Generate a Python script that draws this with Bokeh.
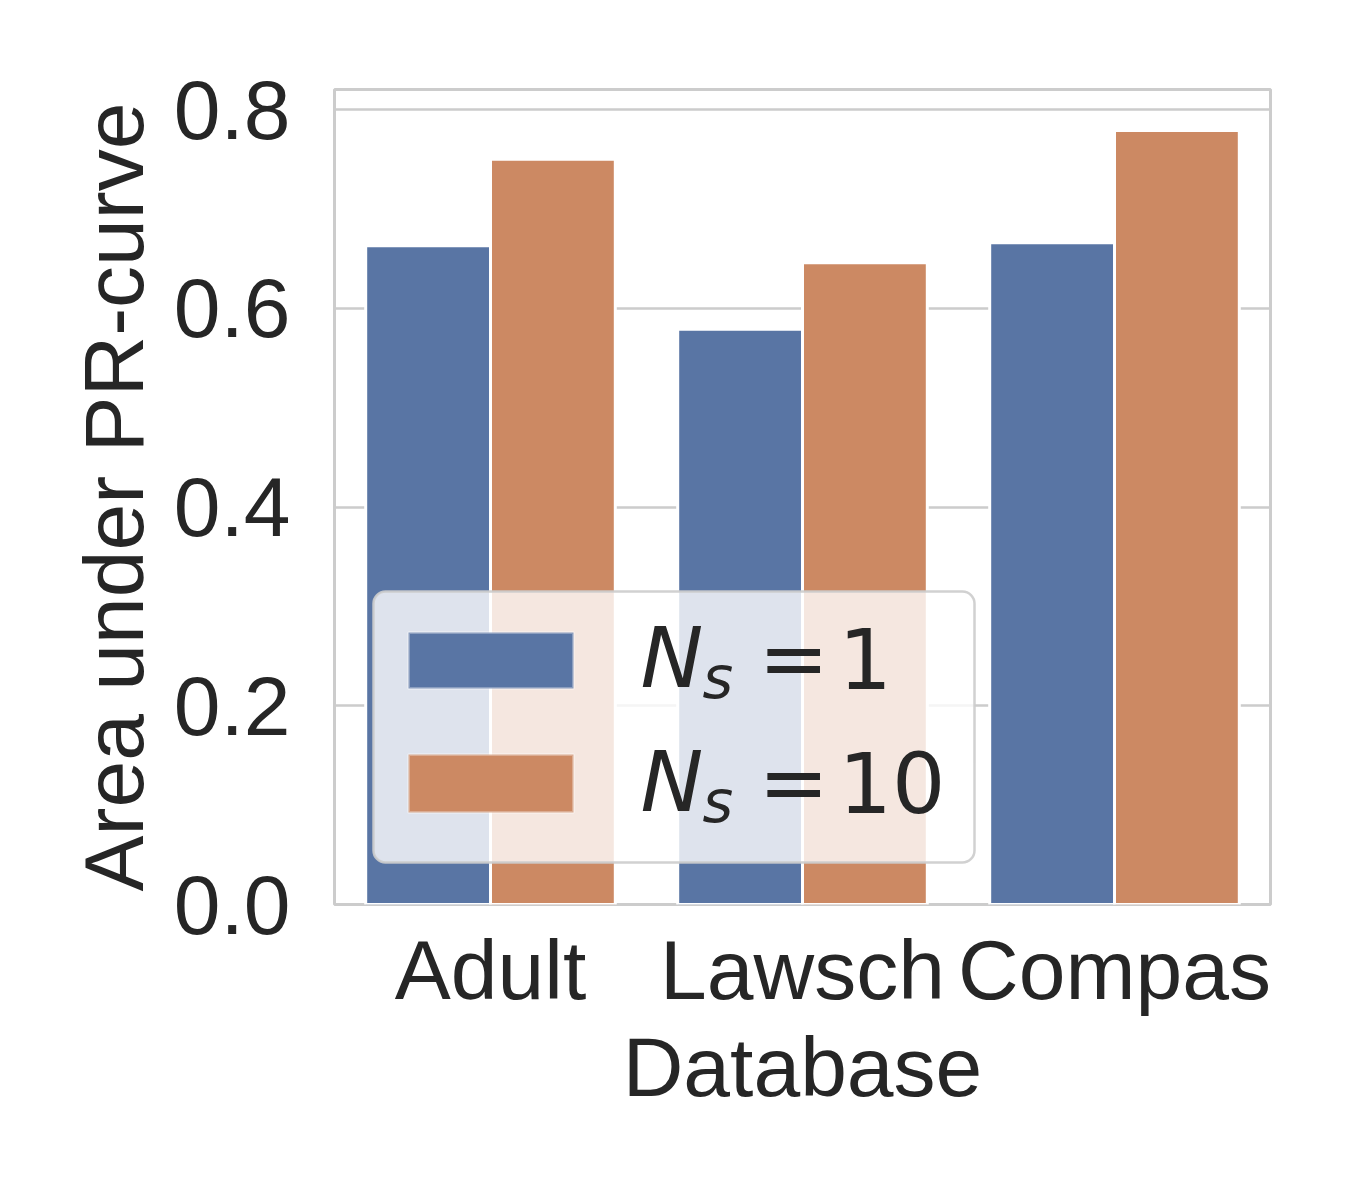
from bokeh.plotting import figure
from bokeh.models import (ColumnDataSource, FactorRange, Range1d, FixedTicker,
                          PrintfTickFormatter, BoxAnnotation, Label)
from bokeh.transform import dodge
from bokeh.embed import file_html
from bokeh.resources import INLINE

# ---- data ----
databases = ["Adult", "Lawsch", "Compas"]
auc_ns1 = [0.663, 0.579, 0.666]
auc_ns10 = [0.750, 0.646, 0.779]
y_ticks = [0.0, 0.2, 0.4, 0.6, 0.8]
series_values = ["1", "10"]
colors = ["#5975A4", "#CC8963"]

# ---- layout ----
W, H = 1330, 1180
L, R, T, B = 334, 60, 89, 276
FW, FH = W - L - R, H - T - B
YMAX = 0.8203
TXT = "#262626"
AX_FONT = "Liberation Sans"
FS = "84px"

src = ColumnDataSource(dict(db=databases, ns1=auc_ns1, ns10=auc_ns10))

p = figure(width=W, height=H, x_range=FactorRange(factors=databases),
           y_range=Range1d(0, YMAX), output_backend="svg", toolbar_location=None,
           min_border_left=L, min_border_right=R, min_border_top=T, min_border_bottom=B)
p.background_fill_color = "white"
p.border_fill_color = "white"
p.outline_line_color = "#cccccc"
p.outline_line_width = 3

p.vbar(x=dodge("db", -0.2, range=p.x_range), top="ns1", width=0.4, source=src,
       fill_color=colors[0], line_color="white", line_width=3)
p.vbar(x=dodge("db", 0.2, range=p.x_range), top="ns10", width=0.4, source=src,
       fill_color=colors[1], line_color="white", line_width=3)

# axes
p.yaxis.ticker = FixedTicker(ticks=y_ticks)
p.yaxis.formatter = PrintfTickFormatter(format="%.1f")
for ax in (p.xaxis[0], p.yaxis[0]):
    ax.axis_line_color = None
    ax.major_tick_line_color = None
    ax.minor_tick_line_color = None
    ax.major_tick_in = 0
    ax.major_tick_out = 0
    ax.major_label_text_font = AX_FONT
    ax.major_label_text_font_size = FS
    ax.major_label_text_color = TXT
    ax.axis_label_text_font = AX_FONT
    ax.axis_label_text_font_size = FS
    ax.axis_label_text_color = TXT
    ax.axis_label_text_font_style = "normal"
p.xaxis.axis_label = "Database"
p.yaxis.axis_label = "Area under PR-curve"
p.xaxis.major_label_standoff = 18
p.xaxis.axis_label_standoff = 0
p.yaxis.major_label_standoff = 44
p.yaxis.axis_label_standoff = 10

p.xgrid.visible = False
p.ygrid.ticker = FixedTicker(ticks=y_ticks)
p.ygrid.grid_line_color = "#cccccc"
p.ygrid.grid_line_width = 2.5

# ---- legend (drawn manually to get N_s math text) ----
def xd(fx):
    return fx / FW * len(databases)

def yd(fy):
    return YMAX * (1 - fy / FH)

p.add_layout(BoxAnnotation(left=xd(39), right=xd(640), top=yd(502), bottom=yd(773),
                           fill_color="white", fill_alpha=0.8,
                           line_color="#cccccc", line_alpha=0.9, line_width=2.5,
                           border_radius=12))

rows = [(543, 599), (665, 723)]  # swatch top/bottom in frame px
baselines = [568, 692]
for i, (sv, c) in enumerate(zip(series_values, colors)):
    st, sb = rows[i]
    p.add_layout(BoxAnnotation(left=xd(74), right=xd(239), top=yd(st), bottom=yd(sb),
                               fill_color=c, fill_alpha=1.0, line_color="white",
                               line_width=3))
    bl = baselines[i]
    p.add_layout(Label(x=xd(306), y=yd(bl), text="N", text_font="DejaVu Sans",
                       text_font_style="italic", text_font_size=FS, text_color=TXT,
                       text_baseline="alphabetic", text_align="left"))
    p.add_layout(Label(x=xd(368), y=yd(bl + 20), text="s", text_font="DejaVu Sans",
                       text_font_style="italic", text_font_size="59px", text_color=TXT,
                       text_baseline="alphabetic", text_align="left"))
    p.add_layout(Label(x=xd(424), y=yd(bl), text="=", text_font="DejaVu Sans",
                       text_font_size=FS, text_color=TXT,
                       text_baseline="alphabetic", text_align="left"))
    p.add_layout(Label(x=xd(504), y=yd(bl), text=sv, text_font="DejaVu Sans",
                       text_font_size=FS, text_color=TXT,
                       text_baseline="alphabetic", text_align="left"))

open("out.html", "w").write(file_html(p, INLINE))
